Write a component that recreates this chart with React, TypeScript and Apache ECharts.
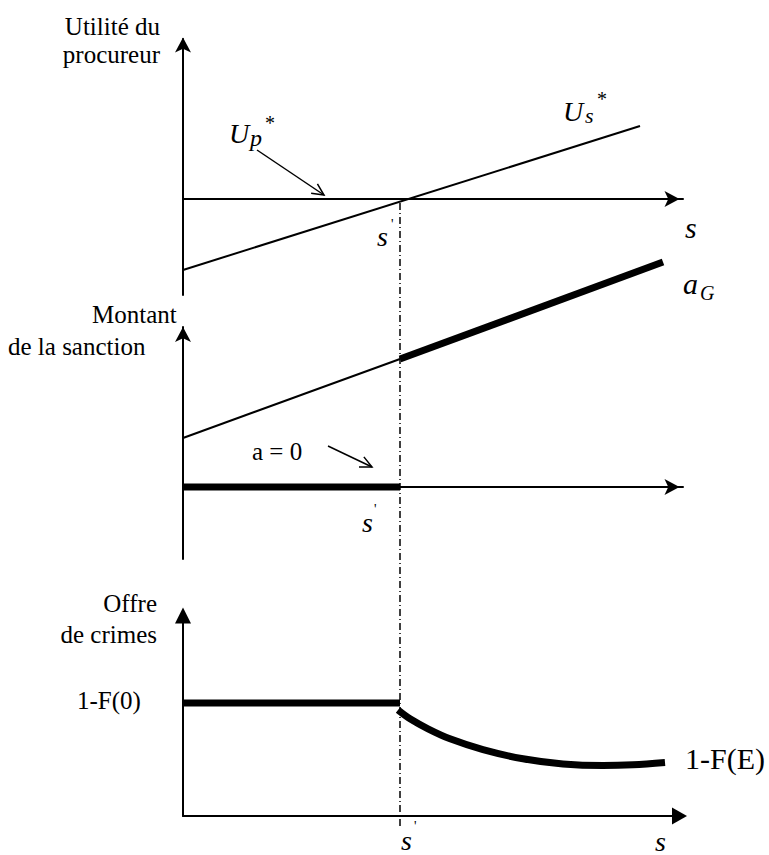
import React, { useEffect, useRef } from "react";
import * as echarts from "echarts";

// ---- data (diagram coordinates: s on the x axis, 0..10) ----
const S_PRIME = 4.34;
const X_MAX = 10;
// Panel 1: utilité du procureur
const usStarLine: number[][] = [[0, -1.775], [9.14, 1.825]];
// Panel 2: montant de la sanction
const sanctionThin: number[][] = [[0, 1.225], [S_PRIME, 3.2]];
const sanctionThick: number[][] = [[S_PRIME, 3.2], [9.6, 5.625]];
const sanctionZero: number[][] = [[0, 0], [S_PRIME, 0]];
// Panel 3: offre de crimes
const crimeFlat: number[][] = [[0, 2.825], [S_PRIME, 2.825]];
const crimeCurveX = [4.3, 4.54, 4.9, 5.34, 6.0, 6.8, 7.6, 8.4, 9.0, 9.64];
const crimeCurveY = [2.65, 2.43, 2.18, 1.93, 1.66, 1.43, 1.3, 1.26, 1.28, 1.34];
const dashedRef: number[][] = [[S_PRIME, 0], [S_PRIME, 1]];

const SERIF = "Liberation Serif";

function arrowHead(x1: number, y1: number, x2: number, y2: number, len: number, ang: number) {
  const t = Math.atan2(y2 - y1, x2 - x1);
  return [
    [x2 - len * Math.cos(t - ang), y2 - len * Math.sin(t - ang)],
    [x2, y2],
    [x2 - len * Math.cos(t + ang), y2 - len * Math.sin(t + ang)],
  ];
}

function txt(text: string, x: number, y: number, size: number, italic = false, align = "left") {
  const style: any = {
    text,
    fontFamily: SERIF,
    fontSize: size,
    fill: "#000",
    align,
    verticalAlign: "middle",
  };
  if (italic) style.fontStyle = "italic";
  return { type: "text", x, y, style };
}

function pointer(x1: number, y1: number, x2: number, y2: number) {
  return [
    { type: "line", shape: { x1, y1, x2, y2 }, style: { stroke: "#000", lineWidth: 1.5 } },
    {
      type: "polyline",
      shape: { points: arrowHead(x1, y1, x2, y2, 13, 0.45) },
      style: { stroke: "#000", lineWidth: 1.5, fill: null },
    },
  ];
}

function valueAxis(gridIndex: number, min: number, max: number, symbol: string, size: number[], offset: number) {
  return {
    gridIndex,
    type: "value",
    min,
    max,
    axisLine: {
      show: true,
      onZero: true,
      symbol: ["none", symbol],
      symbolSize: size,
      symbolOffset: [0, offset],
      lineStyle: { color: "#000", width: 2 },
    },
    axisTick: { show: false },
    axisLabel: { show: false },
    splitLine: { show: false },
  };
}

function lineSeries(x: number, y: number, data: number[][], width: number, extra: any = {}) {
  return {
    type: "line",
    xAxisIndex: x,
    yAxisIndex: y,
    data,
    symbol: "none",
    clip: false,
    silent: true,
    lineStyle: { color: "#000", width, cap: "butt" },
    ...extra,
  };
}

export default function App() {
  const ref = useRef<HTMLDivElement>(null);
  useEffect(() => {
    if (!ref.current) return;
    const chart = echarts.init(ref.current, null, { renderer: "svg" });
    const gridBase = { left: 183, width: 500, outerBoundsMode: "none", containLabel: false };
    const option: any = {
      animation: false,
      backgroundColor: "#fff",
      textStyle: { fontFamily: SERIF },
      grid: [
        { ...gridBase, top: 39, height: 256 },
        { ...gridBase, top: 327, height: 232 },
        { ...gridBase, top: 616, height: 200 },
        { ...gridBase, top: 199, height: 627 },
      ],
      xAxis: [
        valueAxis(0, 0, X_MAX, "arrow", [12, 15], -3.5),
        valueAxis(1, 0, X_MAX, "arrow", [12, 15], -3.5),
        valueAxis(2, 0, X_MAX, "triangle", [17, 15], -3.5),
        { gridIndex: 3, type: "value", min: 0, max: X_MAX, show: false },
      ],
      yAxis: [
        valueAxis(0, -2.4, 4, "arrow", [12, 15], 1.5),
        valueAxis(1, -1.8, 4, "arrow", [12, 15], 0),
        valueAxis(2, 0, 5, "triangle", [16, 16], 0.5),
        { gridIndex: 3, type: "value", min: 0, max: 1, show: false },
      ],
      series: [
        lineSeries(3, 3, dashedRef, 1.5, { lineStyle: { color: "#000", width: 1.5, type: [7, 3, 1, 3] } }),
        lineSeries(0, 0, usStarLine, 2),
        lineSeries(1, 1, sanctionThin, 2),
        lineSeries(1, 1, sanctionThick, 7),
        lineSeries(1, 1, sanctionZero, 7),
        lineSeries(2, 2, crimeFlat, 7),
        lineSeries(
          2,
          2,
          crimeCurveX.map((x, i) => [x, crimeCurveY[i]]),
          7,
          { smooth: 0.35 }
        ),
      ],
      graphic: [
        // Panel 1 labels
        txt("Utilité du", 160, 26.5, 25, false, "right"),
        txt("procureur", 160, 54.5, 25, false, "right"),
        txt("U", 229, 133, 28, true),
        txt("p", 250, 138, 24, true),
        txt("*", 265, 123, 20),
        ...pointer(257, 150, 324, 195),
        txt("U", 563, 111, 28, true),
        txt("s", 585, 115, 22, true),
        txt("*", 597, 99, 20),
        txt("s", 685, 227, 30, true),
        txt("s", 377, 236, 28, true),
        txt("'", 391, 224, 14),
        // Panel 2 labels
        txt("Montant", 92, 314.5, 25),
        txt("de la sanction", 8, 346, 25),
        txt("a = 0", 252, 451.5, 25),
        ...pointer(328, 446, 372, 467),
        txt("a", 683, 283, 30, true),
        txt("G", 700, 293, 20, true),
        txt("s", 362, 522.5, 28, true),
        txt("'", 374, 509, 14),
        // Panel 3 labels
        txt("Offre", 157, 603.5, 25, false, "right"),
        txt("de crimes", 157, 634.5, 25, false, "right"),
        txt("1-F(0)", 77, 700.5, 25),
        txt("1-F(E)", 685, 758, 30),
        txt("s", 401, 840.5, 28, true),
        txt("'", 414, 826, 14),
        txt("s", 655, 841, 28, true),
      ],
    };
    chart.setOption(option);
    return () => chart.dispose();
  }, []);
  return (
    <div
      ref={ref}
      style={{ position: "fixed", left: 0, top: 0, width: 769, height: 855, background: "#fff" }}
    />
  );
}
